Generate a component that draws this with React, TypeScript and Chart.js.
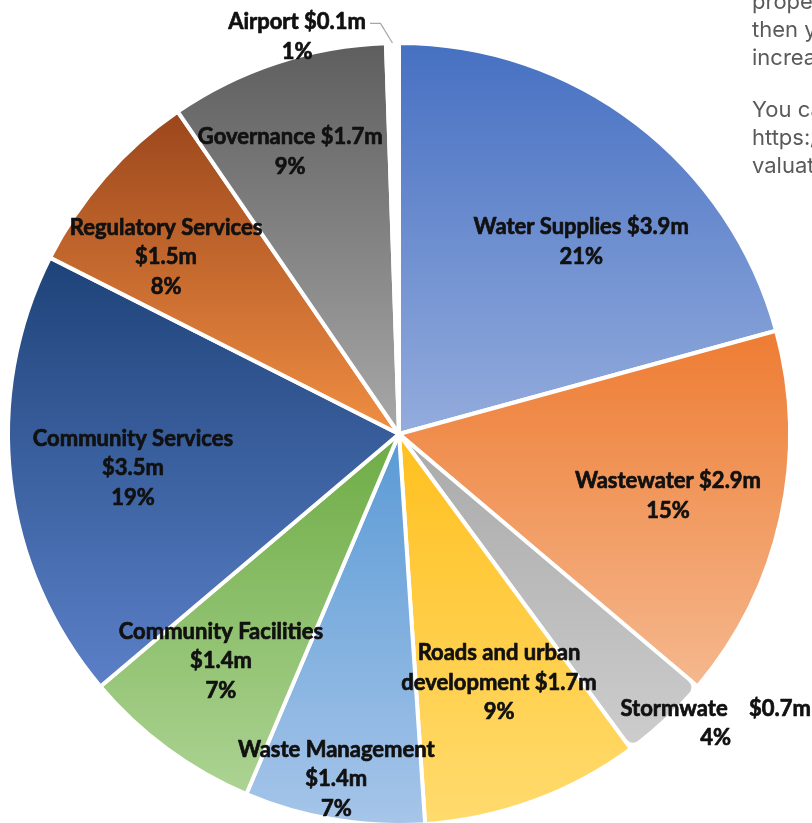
import React, { useEffect, useRef } from "react";
import { Chart, registerables } from "chart.js";

Chart.register(...registerables);

// ---- data ----
const categories = [
  "Water Supplies",
  "Wastewater",
  "Stormwater",
  "Roads and urban development",
  "Waste Management",
  "Community Facilities",
  "Community Services",
  "Regulatory Services",
  "Governance",
  "Airport",
];
const valuesM = [3.9, 2.9, 0.7, 1.7, 1.4, 1.4, 3.5, 1.5, 1.7, 0.1];

// label text as shown on the chart (value and percent are appended from the data)
const labelNameLines = [
  ["Water Supplies"],
  ["Wastewater"],
  ["Stormwate   "],
  ["Roads and urban", "development"],
  ["Waste Management"],
  ["Community Facilities"],
  ["Community Services"],
  ["Regulatory Services"],
  ["Governance"],
  ["Airport"],
];
const valueOnNameLine = [true, true, true, true, false, false, false, false, true, true];

// ---- styles ----
const gradientTop = [
  "#4670C2", "#EE7C33", "#A9A9A9", "#FFC01F", "#5A9AD5",
  "#6EAC45", "#1E4379", "#9B461C", "#5E5E5E", "#FFFFFF",
];
const gradientBottom = [
  "#94ACDD", "#F5B88E", "#CDCDCD", "#FFDB6E", "#A6C5E9",
  "#ACD393", "#5B80C8", "#F08E42", "#A8A8A8", "#FFFFFF",
];
// label placement: angle (deg clockwise from top) and distance as fraction of radius
const labelAngleDeg = [43.5, 103, 132.4, 158.1, 190.3, 218.1, 262.7, 307.2, 338.9, 345.6];
const labelRadiusFrac = [0.677, 0.706, 1.097, 0.686, 0.897, 0.738, 0.686, 0.748, 0.773, 1.048];

const sideTextA = ["property", "then your", "increase"];
const sideTextB = ["You can", "https://", "valuation"];

const total = valuesM.reduce((a, b) => a + b, 0);

function labelLines(i: number): string[] {
  const names = labelNameLines[i].slice();
  const val = `$${valuesM[i].toFixed(1)}m`;
  const pct = `${Math.round((valuesM[i] / total) * 100)}%`;
  if (valueOnNameLine[i]) {
    names[names.length - 1] = names[names.length - 1] + " " + val;
    return [...names, pct];
  }
  return [...names, val, pct];
}

const gradientPlugin = {
  id: "sliceGradient",
  beforeDatasetsDraw(chart: any) {
    const ctx = chart.ctx;
    const meta = chart.getDatasetMeta(0);
    meta.data.forEach((arc: any, i: number) => {
      const { x, y, startAngle, endAngle, outerRadius } = arc.getProps(
        ["x", "y", "startAngle", "endAngle", "outerRadius"],
        true
      );
      const ys = [
        y,
        y + outerRadius * Math.sin(startAngle),
        y + outerRadius * Math.sin(endAngle),
      ];
      for (let k = -2; k <= 2; k++) {
        const down = Math.PI / 2 + 2 * k * Math.PI;
        const up = -Math.PI / 2 + 2 * k * Math.PI;
        if (down >= startAngle && down <= endAngle) ys.push(y + outerRadius);
        if (up >= startAngle && up <= endAngle) ys.push(y - outerRadius);
      }
      const minY = Math.min(...ys);
      const maxY = Math.max(...ys);
      const g = ctx.createLinearGradient(x, minY, x, maxY + 0.01);
      g.addColorStop(0, gradientTop[i]);
      g.addColorStop(1, gradientBottom[i]);
      arc.options.backgroundColor = g;
    });
  },
};

const labelPlugin = {
  id: "sliceLabels",
  afterDatasetsDraw(chart: any) {
    const ctx = chart.ctx;
    const meta = chart.getDatasetMeta(0);
    ctx.save();
    ctx.font = "bold 22px Lato";
    ctx.fillStyle = "#111111";
    ctx.strokeStyle = "#111111";
    ctx.lineWidth = 0.7;
    ctx.lineJoin = "round";
    ctx.textAlign = "center";
    ctx.textBaseline = "middle";
    const lineH = 29.5;
    meta.data.forEach((arc: any, i: number) => {
      const { x, y, outerRadius, startAngle, endAngle } = arc.getProps(
        ["x", "y", "outerRadius", "startAngle", "endAngle"],
        true
      );
      const a = ((labelAngleDeg[i] - 90) * Math.PI) / 180;
      const r = labelRadiusFrac[i] * outerRadius;
      const lx = x + r * Math.cos(a);
      const ly = y + r * Math.sin(a);
      const lines = labelLines(i);
      const y0 = ly - ((lines.length - 1) * lineH) / 2;
      lines.forEach((t, j) => {
        ctx.fillText(t, lx, y0 + j * lineH);
        ctx.strokeText(t, lx, y0 + j * lineH);
      });

      if (i === valuesM.length - 1) {
        // leader line for the tiny slice
        const mid = (startAngle + endAngle) / 2;
        const ex = x + outerRadius * Math.cos(mid);
        const ey = y + outerRadius * Math.sin(mid);
        const w = ctx.measureText(lines[0]).width;
        const textEnd = lx + w / 2 + 4;
        ctx.save();
        ctx.strokeStyle = "#A6A6A6";
        ctx.lineWidth = 1.2;
        ctx.beginPath();
        ctx.moveTo(textEnd, y0 + 1);
        ctx.lineTo(ex - 12, y0 + 1);
        ctx.lineTo(ex, ey);
        ctx.stroke();
        ctx.restore();
      }
    });
    ctx.restore();
  },
};

export default function App() {
  const canvasRef = useRef<HTMLCanvasElement | null>(null);

  useEffect(() => {
    if (!canvasRef.current) return;
    const chart = new Chart(canvasRef.current, {
      type: "pie",
      data: {
        labels: categories,
        datasets: [
          {
            data: valuesM,
            backgroundColor: gradientTop,
            borderColor: "#FFFFFF",
            borderWidth: 4,
            borderRadius: (c: any) => (c.dataIndex === 2 ? 10 : 0),
            clip: false,
          } as any,
        ],
      },
      options: {
        responsive: false,
        animation: false,
        radius: 391,
        layout: { padding: { left: 0, right: 14, top: 45, bottom: 0 } },
        plugins: {
          legend: { display: false },
          tooltip: { enabled: false },
        },
      } as any,
      plugins: [gradientPlugin, labelPlugin],
    });
    return () => chart.destroy();
  }, []);

  const sideStyle: React.CSSProperties = {
    position: "absolute",
    left: 752,
    top: -13,
    fontFamily: "Inter, 'Noto Sans', sans-serif",
    fontSize: 22,
    lineHeight: "28px",
    color: "#5A5A5A",
    whiteSpace: "nowrap",
  };

  return (
    <div
      style={{
        position: "fixed",
        left: 0,
        top: 0,
        width: 812,
        height: 823,
        overflow: "hidden",
        background: "#FFFFFF",
      }}
    >
      <canvas
        ref={canvasRef}
        width={812}
        height={823}
        style={{ position: "absolute", left: 0, top: 0, width: 812, height: 823 }}
      />
      <div style={sideStyle}>
        {sideTextA.map((t) => (
          <div key={t}>{t}</div>
        ))}
        <div style={{ marginTop: 24 }}>
          {sideTextB.map((t) => (
            <div key={t}>{t}</div>
          ))}
        </div>
      </div>
    </div>
  );
}
